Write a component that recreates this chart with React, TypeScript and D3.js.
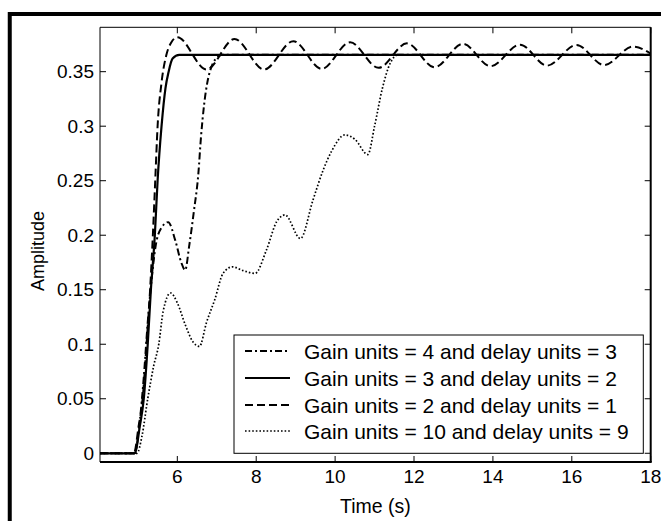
import * as d3 from 'd3';
import React from 'react';

// step responses: [time (s), amplitude]
const gain4delay3: [number, number][] = [
  [4.04, 0], [4.92, 0], [5.05, 0.03], [5.15, 0.07], [5.25, 0.12], [5.35, 0.16], [5.45, 0.19],
  [5.6, 0.207], [5.77, 0.212], [5.95, 0.195], [6.1, 0.175], [6.2, 0.168], [6.3, 0.19],
  [6.42, 0.222], [6.53, 0.255], [6.6, 0.29], [6.68, 0.32], [6.76, 0.34], [6.85, 0.353],
  [6.98, 0.362], [7.15, 0.3655], [18, 0.3655],
];
const gain3delay2: [number, number][] = [
  [4.04, 0], [4.92, 0], [5.05, 0.025], [5.15, 0.05], [5.25, 0.1], [5.33, 0.15], [5.43, 0.2],
  [5.5, 0.25], [5.6, 0.3], [5.7, 0.335], [5.78, 0.35], [5.88, 0.362], [6.05, 0.3655], [18, 0.3655],
];
const gain2delay1: [number, number][] = [
  [4.04, 0], [4.9, 0], [5.02, 0.025], [5.12, 0.05], [5.22, 0.1], [5.31, 0.15], [5.38, 0.2],
  [5.44, 0.25], [5.5, 0.3], [5.6, 0.34], [5.72, 0.365], [5.85, 0.377], [6.0, 0.3816],
  [6.74, 0.352], [7.45, 0.38], [8.2, 0.352], [8.94, 0.378], [9.66, 0.3525], [10.38, 0.377],
  [11.1, 0.3535], [11.82, 0.376], [12.52, 0.354], [13.24, 0.3755], [13.94, 0.355],
  [14.69, 0.3748], [15.37, 0.3555], [16.12, 0.3745], [16.82, 0.356], [17.55, 0.373], [18, 0.3665],
];
const gain10delay9: [number, number][] = [
  [4.04, 0], [4.98, 0], [5.1, 0.015], [5.25, 0.05], [5.4, 0.08], [5.53, 0.1], [5.64, 0.13],
  [5.83, 0.147], [6.0, 0.138], [6.2, 0.118], [6.4, 0.102], [6.56, 0.098], [6.74, 0.12],
  [6.95, 0.141], [7.16, 0.165], [7.4, 0.171], [7.67, 0.1675], [7.97, 0.165], [8.26, 0.1865],
  [8.52, 0.2125], [8.73, 0.2186], [9.12, 0.197], [9.44, 0.2324], [9.7, 0.26], [9.91, 0.277],
  [10.25, 0.292], [10.5, 0.288], [10.83, 0.274], [11.0, 0.3], [11.2, 0.335], [11.4, 0.358],
  [11.6, 0.3655], [18, 0.3655],
];

const xTicks = [6, 8, 10, 12, 14, 16, 18];
const yTicks = [0, 0.05, 0.1, 0.15, 0.2, 0.25, 0.3, 0.35];
const legendLabels = [
  'Gain units = 4 and delay units = 3',
  'Gain units = 3 and delay units = 2',
  'Gain units = 2 and delay units = 1',
  'Gain units = 10 and delay units = 9',
];

const W = 661, H = 521;
const left = 100, right = 650.7, top = 27.3, bottom = 462;
const font = '"Liberation Sans", Arial, Helvetica, sans-serif';

const series = [
  { data: gain4delay3, dash: '7,3,2,3', width: 2 },
  { data: gain3delay2, dash: null, width: 2.2 },
  { data: gain2delay1, dash: '8,4', width: 2 },
  { data: gain10delay9, dash: '1.6,2', width: 1.7 },
];

const App = () => {
  const x = d3.scaleLinear().domain([4.04, 18]).range([left, right]);
  const y = d3.scaleLinear().domain([-0.008, 0.3907]).range([bottom, top]);
  const line = d3.line<[number, number]>()
    .x(d => x(d[0]))
    .y(d => y(d[1]))
    .curve(d3.curveMonotoneX);

  const tickLen = 6;
  const lgX = 234, lgY = 335, lgW = 409.3, lgH = 118.3;
  const rowY = [351, 378, 405, 431];

  return (
    <svg width={W} height={H} style={{ position: 'absolute', left: 0, top: 0, background: '#fff' }}
      fontFamily={font}>
      <rect x={0} y={0} width={W} height={H} fill="#fff" />
      {/* outer frame of the figure */}
      <rect x={9.75} y={14} width={W + 40} height={H + 40} fill="none" stroke="#000" strokeWidth={4} />

      <defs>
        <clipPath id="plot">
          <rect x={left} y={top} width={right - left} height={bottom - top} />
        </clipPath>
      </defs>

      <g clipPath="url(#plot)">
        {series.map((s, i) => (
          <path key={i} d={line(s.data) || ''} fill="none" stroke="#000" strokeWidth={s.width}
            strokeDasharray={s.dash || undefined} />
        ))}
      </g>

      {/* axes box */}
      <line x1={left} x2={right} y1={top} y2={top} stroke="#000" strokeWidth={1} />
      <line x1={left} x2={left} y1={top} y2={bottom} stroke="#000" strokeWidth={1} />
      <line x1={left} x2={right + 1} y1={bottom} y2={bottom} stroke="#000" strokeWidth={2} />
      <line x1={right} x2={right} y1={top} y2={bottom} stroke="#000" strokeWidth={2} />

      {xTicks.map(t => (
        <g key={'x' + t}>
          <line x1={x(t)} x2={x(t)} y1={bottom} y2={bottom - tickLen} stroke="#000" />
          <line x1={x(t)} x2={x(t)} y1={top} y2={top + tickLen} stroke="#000" />
          <text x={x(t)} y={483} fontSize={19} textAnchor="middle">{t}</text>
        </g>
      ))}
      {yTicks.map(t => (
        <g key={'y' + t}>
          <line x1={left} x2={left + tickLen} y1={y(t)} y2={y(t)} stroke="#000" />
          <line x1={right} x2={right - tickLen} y1={y(t)} y2={y(t)} stroke="#000" />
          <text x={94} y={y(t) + 6.5} fontSize={19} textAnchor="end">{String(t)}</text>
        </g>
      ))}

      <text x={(left + right) / 2} y={513} fontSize={19.5} textAnchor="middle">Time (s)</text>
      <text transform={`translate(44,251) rotate(-90)`} fontSize={18} textAnchor="middle">Amplitude</text>

      {/* legend */}
      <rect x={lgX} y={lgY} width={lgW} height={lgH} fill="#fff" stroke="#000" strokeWidth={1} />
      {series.map((s, i) => (
        <g key={'lg' + i}>
          <line x1={245} x2={290} y1={rowY[i]} y2={rowY[i]} stroke="#000" strokeWidth={s.width}
            strokeDasharray={s.dash || undefined} />
          <text x={304} y={rowY[i] + 7.5} fontSize={21}>{legendLabels[i]}</text>
        </g>
      ))}
    </svg>
  );
};

export default App;
